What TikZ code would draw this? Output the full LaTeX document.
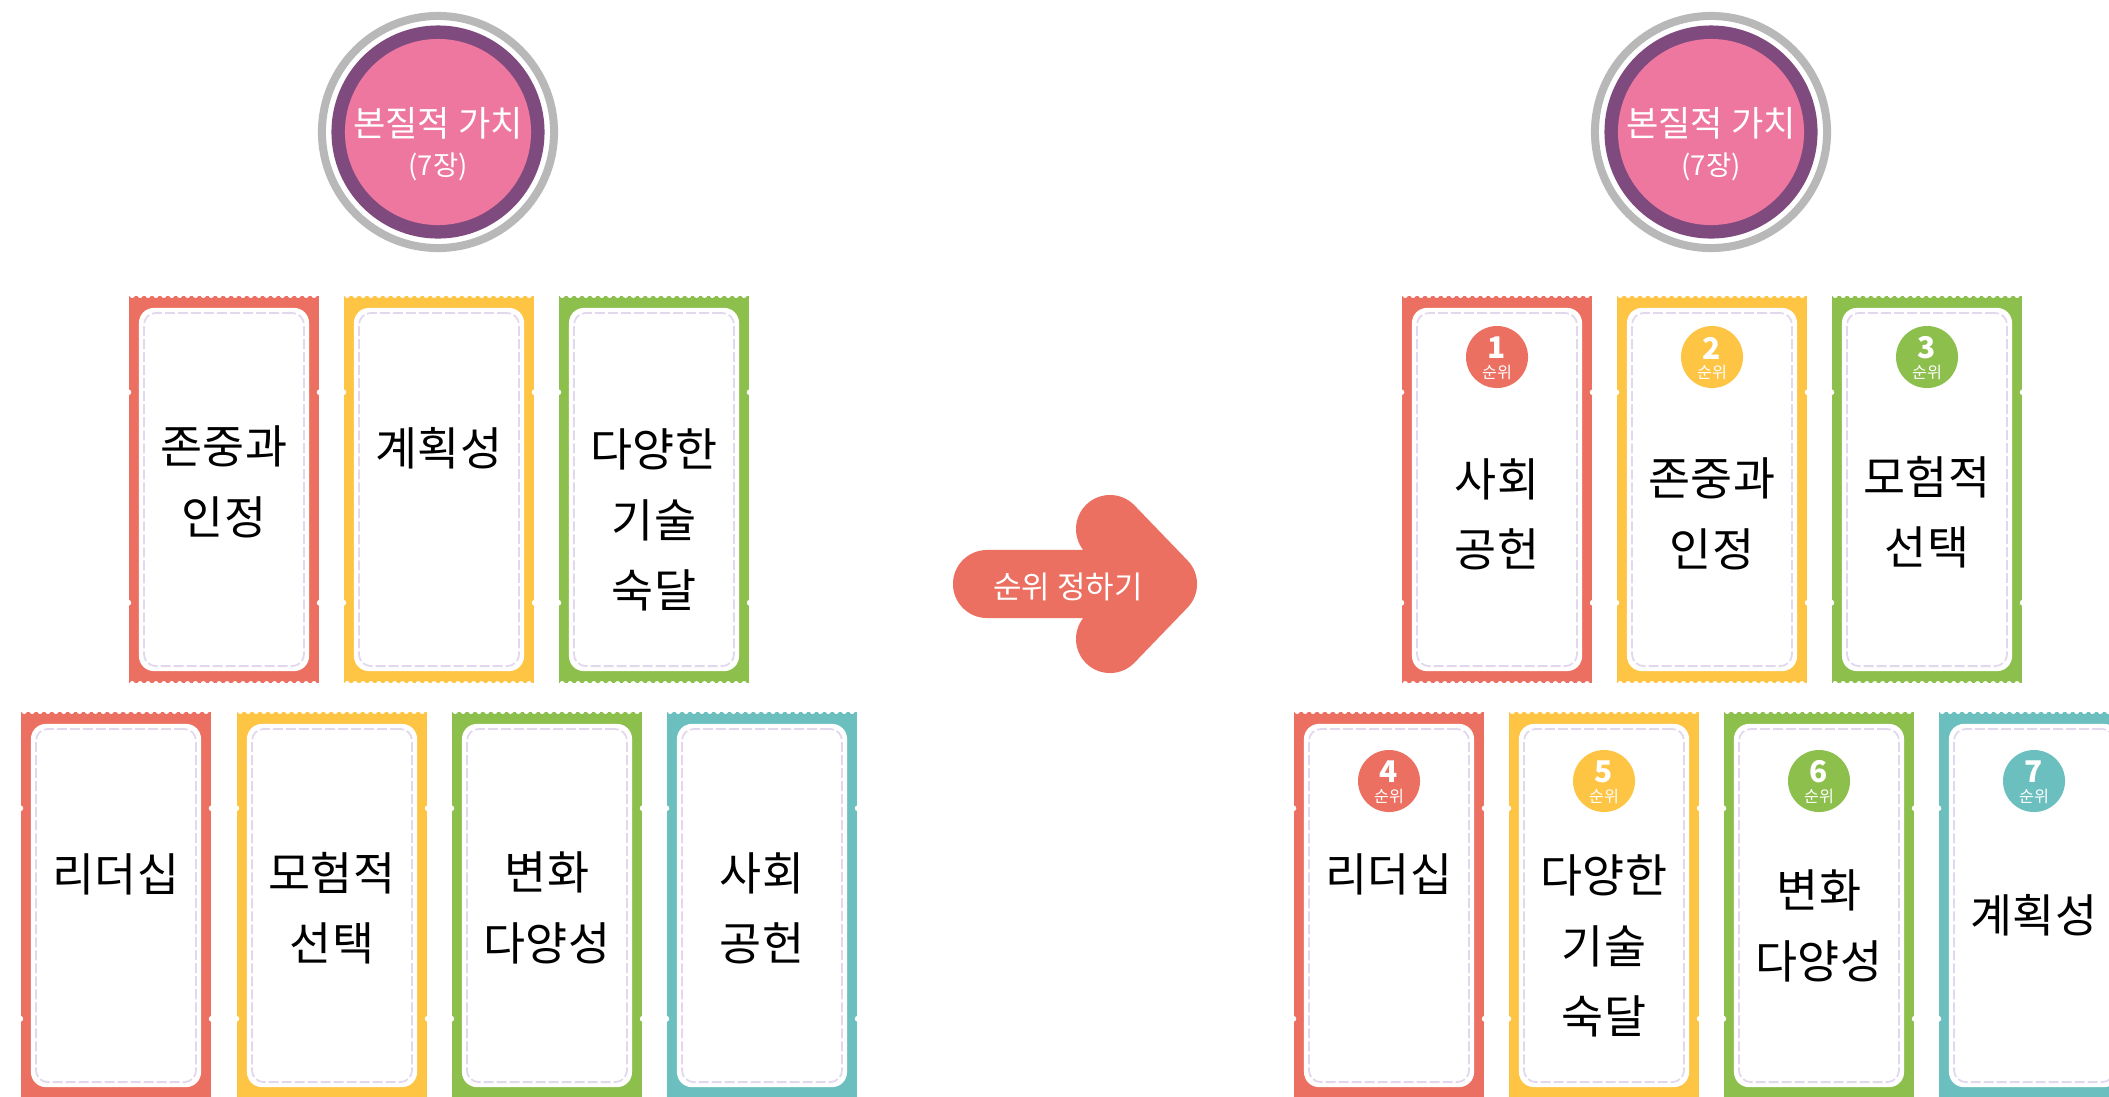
\documentclass[tikz,border=0pt]{standalone}
\usepackage{fontspec}
\setmainfont{Noto Sans CJK KR}

\definecolor{coral}{HTML}{EC7061}
\definecolor{sun}{HTML}{FEC444}
\definecolor{leaf}{HTML}{8DBF4D}
\definecolor{sea}{HTML}{6BBFBF}
\definecolor{plum}{HTML}{7F4B7E}
\definecolor{rose}{HTML}{EE77A0}
\definecolor{ringgray}{HTML}{B8B8B8}
\definecolor{lilac}{HTML}{E2D8EE}

% one value card: colour, name, centre x, centre y
\newcommand{\ticket}[4]{%
  \node (#2) at (#3,#4) [card=#1] {};
  \node at (#2) [cardface] {};
  \node at (#2) [cardline] {};
  \foreach \k in {0,...,23} {
    \fill[white] ([xshift=\k*0.079cm+0.04cm]#2.north west) circle (0.028cm);
    \fill[white] ([xshift=\k*0.079cm+0.04cm]#2.south west) circle (0.028cm);
  }
  \foreach \s in {north west, north east} \fill[white] ([yshift=-0.97cm]#2.\s) circle (0.03cm);
  \foreach \s in {south west, south east} \fill[white] ([yshift=0.81cm]#2.\s) circle (0.03cm);
}

% rank badge: colour, name, x, y, number
\newcommand{\rank}[5]{%
  \node (#2) at (#3,#4) [badge=#1] {};
  \node (#2n) at ([yshift=0.09cm]#2) [whitetext, font={\fontsize{8.5}{9}\selectfont\bfseries}] {#5};
  \node (#2w) at ([yshift=-0.15cm]#2) [whitetext, font={\fontsize{4.6}{5}\selectfont}] {순위};
}

\begin{document}
\begin{tikzpicture}
[x=0.01cm, y=-0.01cm,
 card/.style={rectangle, fill=#1, minimum width=1.9cm, minimum height=3.87cm, inner sep=0pt},
 cardface/.style={rectangle, fill=white, rounded corners=0.15cm, minimum width=1.7cm, minimum height=3.63cm, inner sep=0pt},
 cardline/.style={rectangle, draw=lilac, line width=0.5pt, dash pattern=on 0.1cm off 0.03cm, rounded corners=0.12cm, minimum width=1.6cm, minimum height=3.53cm, inner sep=0pt},
 cardtext/.style={font={\fontsize{13}{20}\selectfont}, align=center, inner sep=0pt},
 badge/.style={circle, fill=#1, minimum size=0.62cm, inner sep=0pt},
 ring/.style={circle, draw=ringgray, line width=0.08cm, minimum size=2.32cm, inner sep=0pt},
 disc/.style={circle, fill=#1, inner sep=0pt},
 whitetext/.style={text=white, inner sep=0pt}]
\useasboundingbox (0,0) rectangle (2109,1096);
\clip (0,0) rectangle (2109,1096);
\fill[white] (0,0) rectangle (2109,1096);

% value circles
\node (lring) at (438,132) [ring] {};
\node (ldisc) at (lring) [disc=plum, minimum size=2.13cm] {};
\node (lcore) at (lring) [disc=rose, minimum size=1.86cm] {};
\node (ltitle) at (438,123) [whitetext, font={\fontsize{10}{12}\selectfont}] {본질적 가치};
\node (lcount) at (438,167) [whitetext, font={\fontsize{7.8}{9}\selectfont}] {(7장)};

\node (rring) at (1711,132) [ring] {};
\node (rdisc) at (rring) [disc=plum, minimum size=2.13cm] {};
\node (rcore) at (rring) [disc=rose, minimum size=1.86cm] {};
\node (rtitle) at (1711,123) [whitetext, font={\fontsize{10}{12}\selectfont}] {본질적 가치};
\node (rcount) at (1711,167) [whitetext, font={\fontsize{7.8}{9}\selectfont}] {(7장)};

% cards before ranking
\ticket{coral}{l1}{224}{489.5}
\ticket{sun}{l2}{439}{489.5}
\ticket{leaf}{l3}{654}{489.5}
\ticket{coral}{l4}{116}{905.5}
\ticket{sun}{l5}{332}{905.5}
\ticket{leaf}{l6}{547}{905.5}
\ticket{sea}{l7}{762}{905.5}

\node (l1t) at (224,482) [cardtext] {존중과\\인정};
\node (l2t) at (439,448) [cardtext] {계획성};
\node (l3t) at (654,520) [cardtext] {다양한\\기술\\숙달};
\node (l4t) at (116,874) [cardtext] {리더십};
\node (l5t) at (332,908) [cardtext] {모험적\\선택};
\node (l6t) at (547,908) [cardtext] {변화\\다양성};
\node (l7t) at (762,908) [cardtext] {사회\\공헌};

% arrow
\coordinate (ashaft) at (987,584);
\coordinate (atip) at (1163,584);
\coordinate (aup) at (1110,529);
\coordinate (alow) at (1110,639);
\draw[coral, line width=0.68cm, line cap=round, line join=round]
  (ashaft) -- (atip) (aup) -- (atip) -- (alow);
\node (alabel) at (1068,587) [whitetext, font={\fontsize{8.8}{10}\selectfont}] {순위 정하기};

% cards after ranking
\ticket{coral}{r1}{1497}{489.5}
\ticket{sun}{r2}{1712}{489.5}
\ticket{leaf}{r3}{1927}{489.5}
\ticket{coral}{r4}{1389}{905.5}
\ticket{sun}{r5}{1604}{905.5}
\ticket{leaf}{r6}{1819}{905.5}
\ticket{sea}{r7}{2034}{905.5}

\rank{coral}{b1}{1497}{357}{1}
\rank{sun}{b2}{1712}{357}{2}
\rank{leaf}{b3}{1927}{357}{3}
\rank{coral}{b4}{1389}{781}{4}
\rank{sun}{b5}{1604}{781}{5}
\rank{leaf}{b6}{1819}{781}{6}
\rank{sea}{b7}{2034}{781}{7}

\node (r1t) at (1497,514) [cardtext] {사회\\공헌};
\node (r2t) at (1712,514) [cardtext] {존중과\\인정};
\node (r3t) at (1927,512) [cardtext] {모험적\\선택};
\node (r4t) at (1389,874) [cardtext] {리더십};
\node (r5t) at (1604,946) [cardtext] {다양한\\기술\\숙달};
\node (r6t) at (1819,926) [cardtext] {변화\\다양성};
\node (r7t) at (2034,915) [cardtext] {계획성};
\end{tikzpicture}
\end{document}
